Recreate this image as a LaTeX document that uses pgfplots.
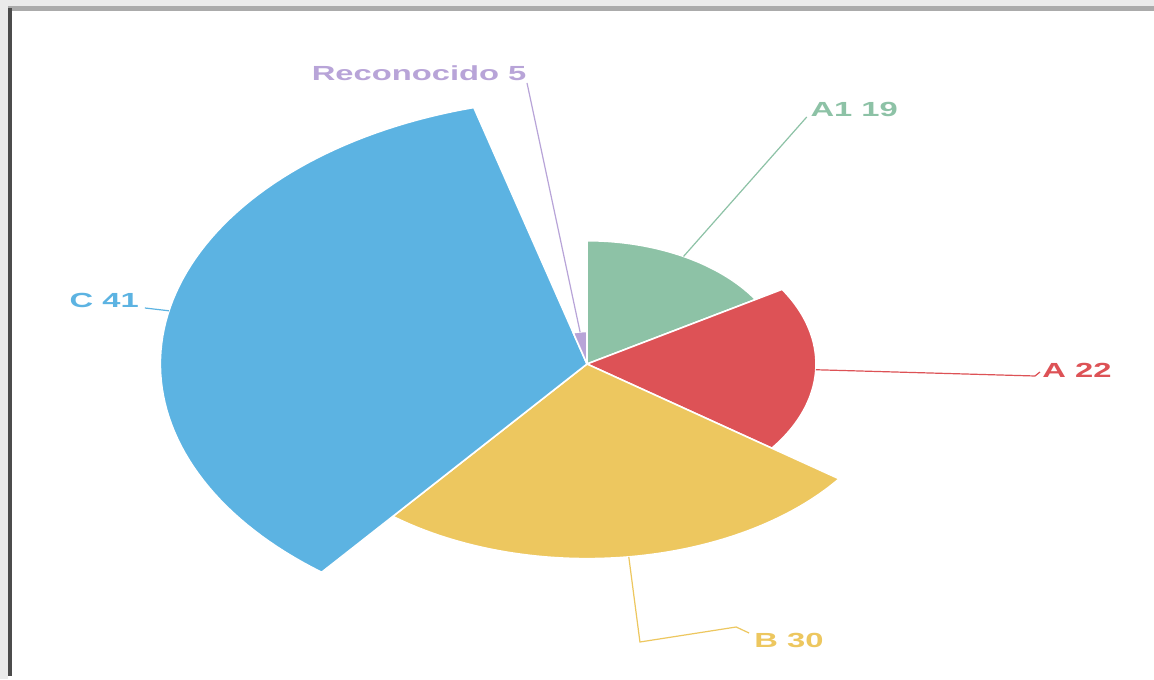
\documentclass[border=0pt]{standalone}
\usepackage{pgfplots}
\pgfplotsset{compat=1.18}
\usepackage{fontspec}
\setmainfont{Liberation Sans}

\definecolor{cAone}{RGB}{141,194,166}
\definecolor{cA}{RGB}{221,82,86}
\definecolor{cB}{RGB}{237,199,95}
\definecolor{cC}{RGB}{92,179,226}
\definecolor{cR}{RGB}{184,164,216}

% values of the rose chart (radius and angle both follow the value)
\def\vAone{19}
\def\vA{22}
\def\vB{30}
\def\vC{41}
\def\vR{5}
\pgfmathsetmacro\tot{\vAone+\vA+\vB+\vC+\vR}
\pgfmathsetmacro\k{266/\vC}
% start angles, clockwise from 12 o'clock
\pgfmathsetmacro\sAone{90}
\pgfmathsetmacro\sA{\sAone-360*\vAone/\tot}
\pgfmathsetmacro\sB{\sA-360*\vA/\tot}
\pgfmathsetmacro\sC{\sB-360*\vB/\tot}
\pgfmathsetmacro\sR{\sC-360*\vC/\tot}
\pgfmathsetmacro\eR{\sR-360*\vR/\tot}
% mid angles and radii
\pgfmathsetmacro\mAone{(\sAone+\sA)/2}
\pgfmathsetmacro\mA{(\sA+\sB)/2}
\pgfmathsetmacro\mB{(\sB+\sC)/2}
\pgfmathsetmacro\mC{(\sC+\sR)/2}
\pgfmathsetmacro\mR{(\sR+\eR)/2}
\pgfmathsetmacro\rAone{\k*\vAone}
\pgfmathsetmacro\rA{\k*\vA}
\pgfmathsetmacro\rB{\k*\vB}
\pgfmathsetmacro\rC{\k*\vC}
\pgfmathsetmacro\rR{\k*\vR}

\newcommand\sector[4]{%
  \fill[#1, draw=white, line width=0.8pt, line join=round] (axis cs:0,0)
    -- plot[domain=#2:#3, samples=80, variable=\t] ({#4*cos(\t)},{#4*sin(\t)}) -- cycle;}

\tikzset{lbl/.style={xscale=1.604, inner sep=0pt, font=\bfseries\fontsize{10.2}{12}\selectfont}}

\begin{document}
\begin{tikzpicture}
\begin{axis}[
    x=0.802pt, y=0.5pt,
    xmin=-365.96, xmax=353.49, ymin=-315, ymax=364,
    hide axis, clip=false,
]
% screenshot frame
\fill[black!8] (axis cs:-365.96,-315) rectangle (axis cs:353.49,364);
\fill[white] (axis cs:-360.97,-315) rectangle (axis cs:353.49,358);
\fill[black!33] (axis cs:-360.97,358) rectangle (axis cs:353.49,353);
\fill[black!70] (axis cs:-360.97,356) rectangle (axis cs:-358.5,-312);

% sectors
\sector{cAone}{\sAone}{\sA}{\rAone}
\sector{cA}{\sA}{\sB}{\rA}
\sector{cB}{\sB}{\sC}{\rB}
\sector{cC}{\sC}{\sR}{\rC}
\sector{cR}{\sR}{\eR}{\rR}

% leader lines
\draw[cAone, line width=0.6pt] ({\rAone*cos(\mAone)},{\rAone*sin(\mAone)}) -- (137,247);
\draw[cA, line width=0.6pt] ({\rA*cos(\mA)},{\rA*sin(\mA)}) -- (279.3,-12) -- (282.4,-8);
\draw[cB, line width=0.6pt] ({\rB*cos(\mB)},{\rB*sin(\mB)}) -- (33,-278) -- (93,-263) -- (101,-269);
\draw[cC, line width=0.6pt] ({\rC*cos(\mC)},{\rC*sin(\mC)}) -- (-275.6,56);
\draw[cR, line width=0.6pt] ({\rR*cos(\mR)},{\rR*sin(\mR)}) -- (-37.4,281);

% labels
\node[lbl, cR, anchor=east] at (axis cs:-37.4,291) {Reconocido \vR};
\node[lbl, cAone, anchor=west] at (axis cs:139,255) {A1 \vAone};
\node[lbl, cA, anchor=west] at (axis cs:283.5,-6) {A \vA};
\node[lbl, cB, anchor=west] at (axis cs:104,-276) {B \vB};
\node[lbl, cC, anchor=east] at (axis cs:-279,64) {C \vC};
\end{axis}
\end{tikzpicture}
\end{document}
